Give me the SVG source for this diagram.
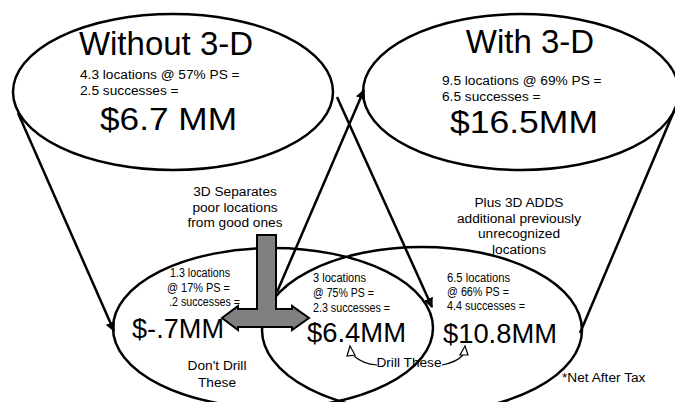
<svg xmlns="http://www.w3.org/2000/svg" width="675" height="402" viewBox="0 0 675 402">
<defs>
<style>
.el{fill:none;stroke:#000;stroke-width:2.5}
.ln{stroke:#000;stroke-width:2.5;fill:none}
.t{font-family:"Liberation Sans",Arial,sans-serif;fill:#000}
.big{font-size:33px}
.mid{font-size:13.7px}
.sm{font-size:12.5px}
.val{font-size:27px}
.huge{font-size:32px}
</style>
<marker id="ah" viewBox="0 0 10 10" refX="9" refY="5" markerWidth="4" markerHeight="4" orient="auto" markerUnits="strokeWidth">
<path d="M0,0 L10,5 L0,10 z" fill="#000"/>
</marker>
</defs>
<rect width="675" height="402" fill="#fff"/>

<g id="without3d">
<ellipse class="el" cx="173" cy="92" rx="160" ry="78"/>
<text class="t big" x="166" y="55" text-anchor="middle">Without 3-D</text>
<text class="t mid" x="80" y="79">4.3 locations @ 57% PS =</text>
<text class="t mid" x="80" y="95">2.5 successes =</text>
<text class="t huge" x="100" y="130" textLength="137" lengthAdjust="spacingAndGlyphs">$6.7 MM</text>
</g>

<g id="with3d">
<ellipse class="el" cx="521" cy="92" rx="158" ry="78"/>
<text class="t big" x="530" y="53" text-anchor="middle">With 3-D</text>
<text class="t mid" x="442" y="85">9.5 locations @ 69% PS =</text>
<text class="t mid" x="442" y="101">6.5 successes =</text>
<text class="t huge" x="450" y="133" textLength="148" lengthAdjust="spacingAndGlyphs">$16.5MM</text>
</g>

<g id="poor">
<ellipse class="el" cx="273" cy="328" rx="160" ry="80"/>
<text class="t sm" x="170" y="277" textLength="60" lengthAdjust="spacingAndGlyphs">1.3 locations</text>
<text class="t sm" x="167" y="292" textLength="63" lengthAdjust="spacingAndGlyphs">@ 17% PS =</text>
<text class="t sm" x="169" y="306" textLength="71" lengthAdjust="spacingAndGlyphs">.2 successes =</text>
<text class="t val" x="132" y="338" textLength="92" lengthAdjust="spacingAndGlyphs">$-.7MM</text>
<text class="t mid" x="217" y="370" text-anchor="middle">Don't Drill</text>
<text class="t mid" x="217" y="387" text-anchor="middle">These</text>
</g>

<g id="good">
<ellipse class="el" cx="422" cy="330" rx="160" ry="83"/>
<text class="t sm" x="313" y="282" textLength="53" lengthAdjust="spacingAndGlyphs">3 locations</text>
<text class="t sm" x="313" y="297" textLength="61" lengthAdjust="spacingAndGlyphs">@ 75% PS =</text>
<text class="t sm" x="313" y="312" textLength="77" lengthAdjust="spacingAndGlyphs">2.3 successes =</text>
<text class="t val" x="307" y="342" textLength="99" lengthAdjust="spacingAndGlyphs">$6.4MM</text>
<text class="t sm" x="447" y="282" textLength="63" lengthAdjust="spacingAndGlyphs">6.5 locations</text>
<text class="t sm" x="447" y="296" textLength="62" lengthAdjust="spacingAndGlyphs">@ 66% PS =</text>
<text class="t sm" x="447" y="310" textLength="78" lengthAdjust="spacingAndGlyphs">4.4 successes =</text>
<text class="t val" x="443" y="343" textLength="114" lengthAdjust="spacingAndGlyphs">$10.8MM</text>
</g>

<g id="connectors">
<line class="ln" x1="18" y1="113" x2="114" y2="331" marker-end="url(#ah)"/>
<line class="ln" x1="337" y1="97" x2="432" y2="307" marker-end="url(#ah)"/>
<line class="ln" x1="277" y1="292" x2="364" y2="90" marker-end="url(#ah)"/>
<line class="ln" x1="677" y1="104" x2="580" y2="333"/>
<polygon points="257,235 276,235 276,309 292,309 292,306 309,318 292,330 292,327 238,327 238,330 222,318 238,306 238,309 257,309" fill="#808080" stroke="#000" stroke-width="2" stroke-linejoin="miter"/>
<path d="M377,365 Q363,364 354,356" fill="none" stroke="#000" stroke-width="1.2"/>
<polygon points="350,346 347,356 355,355" fill="#fff" stroke="#000" stroke-width="1.2"/>
<path d="M442,365 Q457,362 463,355" fill="none" stroke="#000" stroke-width="1.2"/>
<polygon points="465,346 460,355 468,355" fill="#fff" stroke="#000" stroke-width="1.2"/>
</g>

<g id="notes">
<text class="t mid" x="235" y="196" text-anchor="middle">3D Separates</text>
<text class="t mid" x="235" y="212" text-anchor="middle">poor locations</text>
<text class="t mid" x="235" y="227" text-anchor="middle">from good ones</text>
<text class="t mid" x="519" y="207" text-anchor="middle">Plus 3D ADDS</text>
<text class="t mid" x="519" y="223" text-anchor="middle">additional previously</text>
<text class="t mid" x="519" y="238" text-anchor="middle">unrecognized</text>
<text class="t mid" x="519" y="254" text-anchor="middle">locations</text>
<text class="t mid" x="409" y="367" text-anchor="middle">Drill These</text>
<text class="t mid" x="562" y="382">*Net After Tax</text>
</g>
</svg>
